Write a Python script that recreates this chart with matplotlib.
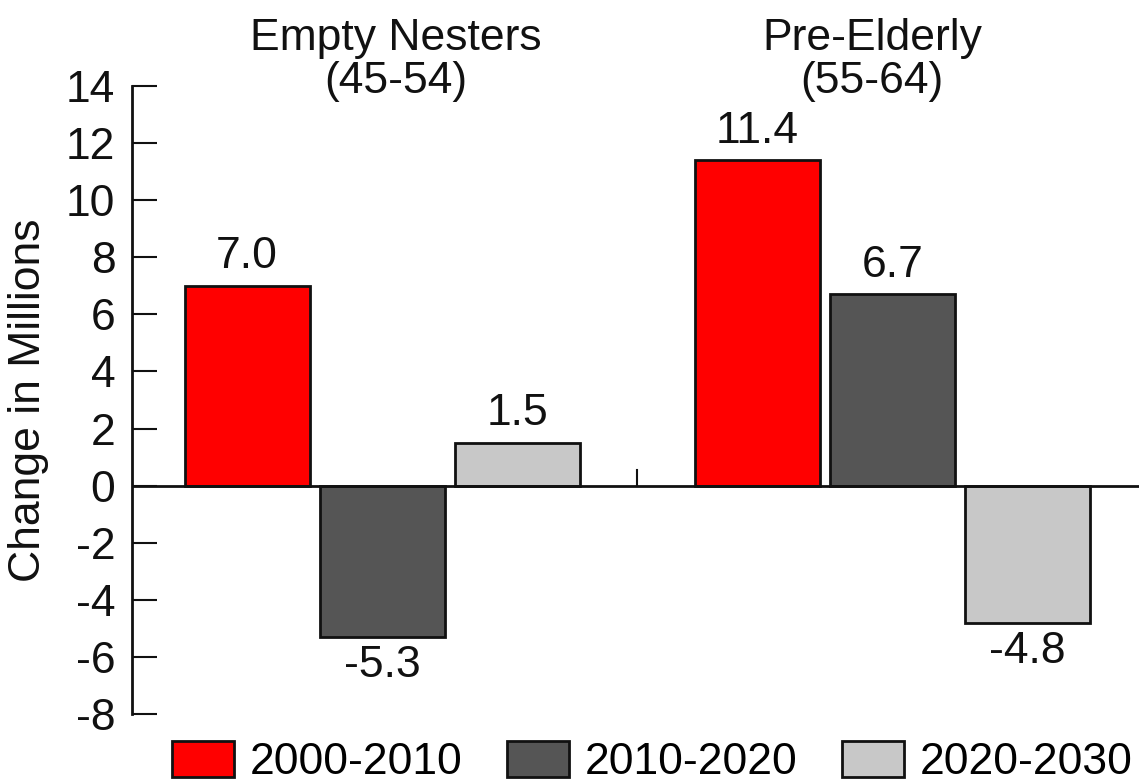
import matplotlib
matplotlib.use("Agg")
import matplotlib.pyplot as plt
from matplotlib.patches import Patch
import numpy as np

plt.rcParams['font.family'] = ['Liberation Sans', 'DejaVu Sans']
plt.rcParams['axes.unicode_minus'] = False

groups = ["Empty Nesters", "Pre-Elderly"]
ages = ["(45-54)", "(55-64)"]
periods = ["2000-2010", "2010-2020", "2020-2030"]
values = {
    "2000-2010": [7.0, 11.4],
    "2010-2020": [-5.3, 6.7],
    "2020-2030": [1.5, -4.8],
}
colors = ["#ff0000", "#555555", "#c8c8c8"]
yticks = list(range(-8, 15, 2))

FS = 32
group_gap = 3.78   # distance between group starts, in bar slots
width = 0.926

fig = plt.figure(figsize=(11.39, 7.82), dpi=100)
ax = fig.add_axes([132 / 1139, 1 - 714 / 782, 1 - 132 / 1139, (714 - 86) / 782])

for i, (p, c) in enumerate(zip(periods, colors)):
    xs = np.arange(len(groups)) * group_gap + i
    vals = values[p]
    ax.bar(xs, vals, width=width, color=c, edgecolor="#111111", linewidth=2, zorder=2)
    for x, v in zip(xs, vals):
        if v >= 0:
            ax.annotate(f"{v:.1f}", (x, v), xytext=(0, 6), textcoords="offset points",
                        ha="center", va="bottom", fontsize=FS, color="#111111")
        else:
            ax.annotate(f"{v:.1f}", (x, v), xytext=(0, -6), textcoords="offset points",
                        ha="center", va="top", fontsize=FS, color="#111111")

ax.axhline(0, color="#111111", linewidth=2, zorder=3)
sep = (len(periods) - 1 + group_gap) / 2
ax.plot([sep, sep], [0, 0.55], color="#111111", linewidth=1.5, zorder=3)

ax.set_xlim(-0.852, 6.607)
ax.set_ylim(-8, 14)
ax.set_yticks(yticks)
ax.set_yticklabels([str(t) for t in yticks])
ax.set_xticks([])
for s in ["top", "right", "bottom"]:
    ax.spines[s].set_visible(False)
ax.spines["left"].set_linewidth(2)
ax.spines["left"].set_color("#111111")
ax.tick_params(axis="y", direction="in", length=18, width=1.5, pad=12,
               labelsize=FS, colors="#111111")
ax.set_ylabel("Change in Millions", fontsize=FS, color="#111111")
ax.yaxis.set_label_coords(-0.082, 0.5)

title_x = [1.10, 4.63]
for tx, g, a in zip(title_x, groups, ages):
    ax.text(tx, 15.65, g, ha="center", va="center", fontsize=FS, color="#111111")
    ax.text(tx, 14.15, a, ha="center", va="center", fontsize=FS, color="#111111")

handles = [Patch(facecolor=c, edgecolor="#111111", linewidth=2, label=p)
           for p, c in zip(periods, colors)]
fig.legend(handles=handles, loc="center", bbox_to_anchor=(652 / 1139, 1 - 762 / 782),
           ncol=3, frameon=False, fontsize=FS, handlelength=1.4, handleheight=0.86,
           handletextpad=0.35, columnspacing=1.0, borderpad=0, borderaxespad=0)

fig.savefig("out.png", dpi=100)
